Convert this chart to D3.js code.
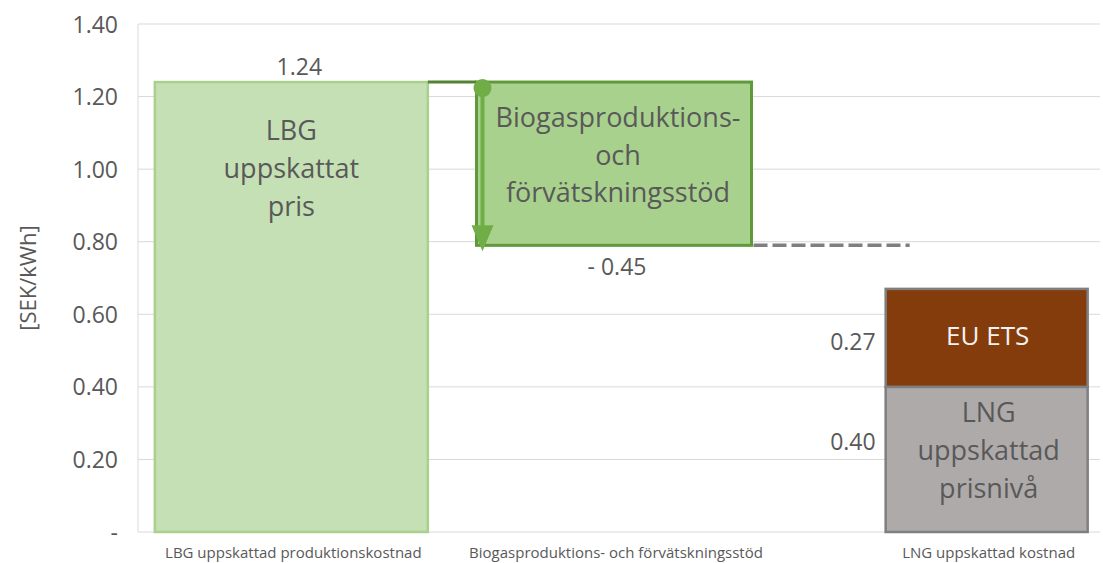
<!DOCTYPE html>
<html>
<head>
<meta charset="utf-8">
<script src="https://cdn.jsdelivr.net/npm/d3@7"></script>
<style>
  body { margin: 0; background: #fff; }
  svg text { font-family: 'Open Sans', 'Noto Sans', sans-serif; fill: #595959; }
</style>
</head>
<body>
<svg id="chart" width="1103" height="563"></svg>
<script>
'use strict';

// categories along the x axis
const categories = [
  'LBG uppskattad produktionskostnad',
  'Biogasproduktions- och förvätskningsstöd',
  'LNG uppskattad kostnad'
];

// waterfall values
const lbgPrice = 1.24;
const support = -0.45;
// stacked LNG column: base price + EU ETS
const lngParts = ['LNG uppskattad prisnivå', 'EU ETS'];
const lngValues = [0.40, 0.27];

const yTicks = [0, 0.2, 0.4, 0.6, 0.8, 1.0, 1.2, 1.4];

// text inside the bars
const lbgLines = ['LBG', 'uppskattat', 'pris'];
const supportLines = ['Biogasproduktions-', 'och', 'förvätskningsstöd'];
const lngLines = ['LNG', 'uppskattad', 'prisnivå'];

const svg = d3.select('#chart');
const plotLeft = 138, plotRight = 1100, plotTop = 24, plotBottom = 532;

const y = d3.scaleLinear().domain([0, 1.4]).range([plotBottom, plotTop]);
const x = d3.scaleBand().domain(categories).range([plotLeft, plotRight]);

// per column layout tweaks (centre shift, bar width)
const colShift = [-7, -5, 47];
const colWidth = [273, 275, 202];
const barX = i => x(categories[i]) + x.bandwidth() / 2 + colShift[i] - colWidth[i] / 2;
const barC = i => x(categories[i]) + x.bandwidth() / 2 + colShift[i];

const fmt = d3.format('.2f');

// GRID
svg.append('g')
  .selectAll('line')
  .data(yTicks)
  .enter()
  .append('line')
  .attr('x1', plotLeft)
  .attr('x2', plotRight)
  .attr('y1', d => y(d))
  .attr('y2', d => y(d))
  .attr('stroke', '#d9d9d9')
  .attr('stroke-width', 1);

svg.append('line')
  .attr('x1', plotLeft).attr('x2', plotLeft)
  .attr('y1', y(1.4)).attr('y2', y(0))
  .attr('stroke', '#d9d9d9');

const yAxis = d3.axisLeft(y)
  .tickValues(yTicks)
  .tickSize(0)
  .tickPadding(20)
  .tickFormat(d => d === 0 ? '-' : fmt(d));
const ya = svg.append('g')
  .attr('transform', `translate(${plotLeft},0)`)
  .call(yAxis);
ya.select('.domain').remove();
ya.selectAll('text')
  .style('font-size', '23px')
  .attr('dy', '0.35em');

svg.append('text')
  .attr('transform', `translate(36,278) rotate(-90)`)
  .attr('text-anchor', 'middle')
  .style('font-size', '22px')
  .text('[SEK/kWh]');

// category labels
svg.append('g')
  .selectAll('text')
  .data(categories)
  .enter()
  .append('text')
  .attr('x', (d, i) => barC(i) + 2)
  .attr('y', 558)
  .attr('text-anchor', 'middle')
  .style('font-size', '15px')
  .text(d => d);

// BAR 1: LBG price
svg.append('rect')
  .attr('x', barX(0))
  .attr('y', y(lbgPrice))
  .attr('width', colWidth[0])
  .attr('height', y(0) - y(lbgPrice))
  .attr('fill', '#c5e0b4')
  .attr('stroke', '#a9d18e')
  .attr('stroke-width', 2.5);

svg.append('text')
  .attr('x', barC(0) + 8)
  .attr('y', y(lbgPrice) - 7)
  .attr('text-anchor', 'middle')
  .style('font-size', '23px')
  .text(fmt(lbgPrice));

svg.append('g')
  .selectAll('text')
  .data(lbgLines)
  .enter()
  .append('text')
  .attr('x', barC(0))
  .attr('y', (d, i) => 140 + i * 38)
  .attr('text-anchor', 'middle')
  .style('font-size', '27px')
  .text(d => d);

// BAR 2: support (negative step)
const supTop = y(lbgPrice), supBot = y(lbgPrice + support);
svg.append('rect')
  .attr('x', barX(1))
  .attr('y', supTop)
  .attr('width', colWidth[1])
  .attr('height', supBot - supTop)
  .attr('fill', '#a9d18e')
  .attr('stroke', '#5e9a3a')
  .attr('stroke-width', 3);

// connector from bar 1 to bar 2
svg.append('line')
  .attr('x1', barX(0) + colWidth[0])
  .attr('x2', barX(1))
  .attr('y1', supTop)
  .attr('y2', supTop)
  .attr('stroke', '#548235')
  .attr('stroke-width', 3);

// arrow
const ax = barX(1) + 6;
svg.append('line')
  .attr('x1', ax).attr('x2', ax)
  .attr('y1', supTop + 6)
  .attr('y2', supBot - 12)
  .attr('stroke', '#70ad47')
  .attr('stroke-width', 4);
svg.append('circle')
  .attr('cx', ax)
  .attr('cy', supTop + 6)
  .attr('r', 9)
  .attr('fill', '#70ad47');
svg.append('path')
  .attr('d', `M ${ax - 11},${supBot - 20} L ${ax + 11},${supBot - 20} L ${ax},${supBot + 6} Z`)
  .attr('fill', '#70ad47');

svg.append('g')
  .selectAll('text')
  .data(supportLines)
  .enter()
  .append('text')
  .attr('x', barC(1) + 4)
  .attr('y', (d, i) => 127 + i * 37.5)
  .attr('text-anchor', 'middle')
  .style('font-size', '27px')
  .text(d => d);

svg.append('text')
  .attr('x', barC(1) + 3)
  .attr('y', supBot + 30)
  .attr('text-anchor', 'middle')
  .style('font-size', '23px')
  .text('- ' + fmt(-support));

// dashed level line
svg.append('line')
  .attr('x1', barX(1) + colWidth[1] + 2)
  .attr('x2', barX(2) + 24)
  .attr('y1', supBot)
  .attr('y2', supBot)
  .attr('stroke', '#7f7f7f')
  .attr('stroke-width', 3.5)
  .attr('stroke-dasharray', '14,5');

// BAR 3: stacked LNG
const stackData = lngValues.map((v, i) => ({
  key: lngParts[i],
  y0: d3.sum(lngValues.slice(0, i)),
  y1: d3.sum(lngValues.slice(0, i + 1)),
  value: v
}));
const lngFill = ['#aeaaaa', '#843c0c'];

svg.append('g')
  .selectAll('rect')
  .data(stackData)
  .enter()
  .append('rect')
  .attr('x', barX(2))
  .attr('y', d => y(d.y1))
  .attr('width', colWidth[2])
  .attr('height', d => y(d.y0) - y(d.y1))
  .attr('fill', (d, i) => lngFill[i])
  .attr('stroke', '#7f7f7f')
  .attr('stroke-width', 2.5);

svg.append('g')
  .selectAll('text')
  .data(stackData)
  .enter()
  .append('text')
  .attr('x', barX(2) - 10)
  .attr('y', (d, i) => i === 0 ? 450 : 350)
  .attr('text-anchor', 'end')
  .style('font-size', '23px')
  .text(d => fmt(d.value));

svg.append('text')
  .attr('x', barC(2) + 1)
  .attr('y', 345)
  .attr('text-anchor', 'middle')
  .style('font-size', '26px')
  .style('fill', '#f2f2f2')
  .text('EU ETS');

svg.append('g')
  .selectAll('text')
  .data(lngLines)
  .enter()
  .append('text')
  .attr('x', barC(2) + 2)
  .attr('y', (d, i) => 422 + i * 38)
  .attr('text-anchor', 'middle')
  .style('font-size', '27px')
  .text(d => d);
</script>
</body>
</html>
